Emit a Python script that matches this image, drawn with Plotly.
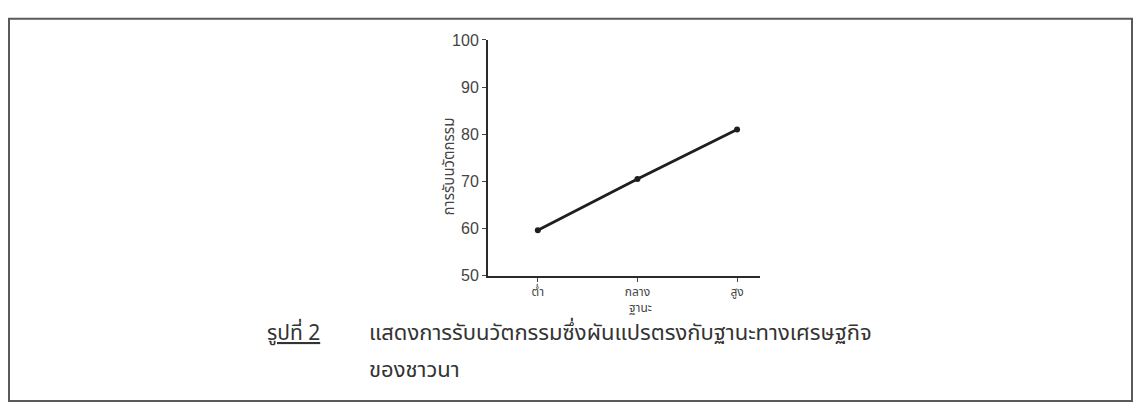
import plotly.graph_objects as go

# Data
categories = ["ต่ำ", "กลาง", "สูง"]
category_pos = [0, 1, 2]
adoption = [59.6, 70.5, 81.0]
y_ticks = [50, 60, 70, 80, 90, 100]

y_title = "การรับนวัตกรรม"
x_title = "ฐานะ"
caption_label = "รูปที่ 2"
caption_line1 = "แสดงการรับนวัตกรรมซึ่งผันแปรตรงกับฐานะทางเศรษฐกิจ"
caption_line2 = "ของชาวนา"

# page body has an 8px margin: size the figure so the page fits the window exactly
OX, OY = 8, 8
W, H = 1141 - 2 * OX, 419 - 2 * OY
THAI = "Noto Sans Thai, Loma, Garuda, Tlwg Typo, Norasi, DejaVu Sans, sans-serif"


def px(x):
    return (x - OX) / W


def py(y):
    return 1 - (y - OY) / H


fig = go.Figure()
fig.add_trace(go.Scatter(
    x=category_pos, y=adoption, mode="lines+markers",
    line=dict(color="#1e1e1e", width=2.8),
    marker=dict(color="#1e1e1e", size=6),
    showlegend=False, cliponaxis=False,
))

fig.update_layout(
    width=W, height=H,
    margin=dict(l=0, r=0, t=0, b=0),
    paper_bgcolor="white", plot_bgcolor="white",
    font=dict(family=THAI, color="#333333"),
    xaxis=dict(
        domain=[px(488), px(760)],
        range=[-0.5, 2.23],
        tickmode="array", tickvals=category_pos, ticktext=categories,
        showgrid=False, zeroline=False,
        showline=True, linecolor="#2a2a2a", linewidth=2,
        ticks="outside", ticklen=4, tickwidth=1, tickcolor="#444",
        tickfont=dict(size=12, color="#444", family=THAI),
    ),
    yaxis=dict(
        domain=[py(279), py(33)],
        range=[50, 100],
        tickmode="array", tickvals=y_ticks,
        showgrid=False, zeroline=False,
        showline=True, linecolor="#2a2a2a", linewidth=2,
        ticks="outside", ticklen=4, tickwidth=1, tickcolor="#444",
        tickfont=dict(size=16, color="#444", family="Liberation Sans, Arial, sans-serif"),
    ),
    shapes=[
        dict(type="rect", xref="paper", yref="paper",
             x0=px(9), x1=px(1132), y0=py(410), y1=py(11),
             line=dict(color="#5a5a5a", width=2)),
    ],
    annotations=[
        dict(text=y_title, xref="paper", yref="paper",
             x=px(449), y=py(165), textangle=-90, showarrow=False,
             xanchor="center", yanchor="middle",
             font=dict(size=15, color="#444", family=THAI)),
        dict(text=x_title, xref="x", yref="paper",
             x=1.03, y=py(313), showarrow=False,
             xanchor="center", yanchor="middle",
             font=dict(size=12, color="#444", family=THAI)),
        dict(text="<u>" + caption_label + "</u>", xref="paper", yref="paper",
             x=px(265), y=py(340), xanchor="left", yanchor="middle", showarrow=False,
             font=dict(size=21, color="#333", family=THAI)),
        dict(text=caption_line1, xref="paper", yref="paper",
             x=px(367), y=py(339), xanchor="left", yanchor="middle", showarrow=False,
             font=dict(size=22, color="#333", family=THAI)),
        dict(text=caption_line2, xref="paper", yref="paper",
             x=px(367), y=py(378), xanchor="left", yanchor="middle", showarrow=False,
             font=dict(size=22, color="#333", family=THAI)),
    ],
)

fig.write_html("out.html")
